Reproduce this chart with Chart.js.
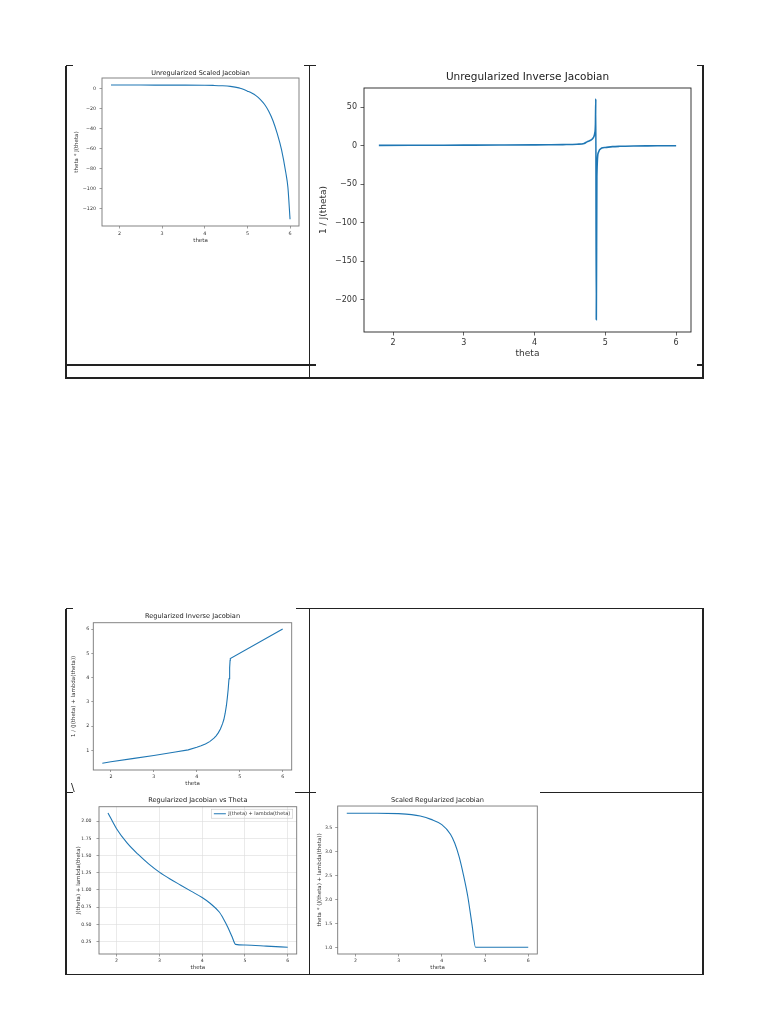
<!DOCTYPE html>
<html>
<head>
<meta charset="utf-8">
<script src="https://cdn.jsdelivr.net/npm/chart.js@4.4.1/dist/chart.umd.min.js"></script>
<style>
  body { margin: 0; width: 768px; height: 1024px; background: #fff; position: relative; overflow: hidden; font-family: 'DejaVu Sans', sans-serif; }
  .ln { position: absolute; background: #222; }
  canvas { position: absolute; }
  .mark { position: absolute; font-size: 11px; color: #222; }
</style>
</head>
<body>
<canvas id="c1"></canvas>
<canvas id="c2"></canvas>
<canvas id="c3"></canvas>
<canvas id="c4"></canvas>
<canvas id="c5"></canvas>
<div class="mark" style="left:71px; top:781px;">\</div>

<script>
// ---- data ----
const thetaTicks = [2, 3, 4, 5, 6];
const thetaTickLabels = ['2', '3', '4', '5', '6'];

// Unregularized Scaled Jacobian: theta * J(theta)
const unregScaledTheta = [1.8, 2.0, 2.5, 3.0, 3.5, 4.0, 4.2, 4.4, 4.6, 4.8, 4.87, 5.0, 5.1, 5.2, 5.3, 5.4, 5.5, 5.6, 5.7, 5.8, 5.9, 5.95, 6.0];
const unregScaledValues = [3.8, 3.8, 3.8, 3.78, 3.74, 3.6, 3.45, 3.15, 2.5, 1.0, 0, -2.3, -4.2, -6.8, -10.5, -15.5, -22.5, -32, -45, -61, -84, -99, -131];
const unregScaledYTicks = [0, -20, -40, -60, -80, -100, -120];
const unregScaledYLabels = ['0', '\u221220', '\u221240', '\u221260', '\u221280', '\u2212100', '\u2212120'];

// Unregularized Inverse Jacobian: 1 / J(theta)
const unregInverseTheta = [1.8, 2.5, 3.0, 3.5, 4.0, 4.2, 4.4, 4.6, 4.7, 4.74, 4.8, 4.83, 4.85, 4.86, 4.865, 4.872, 4.88, 4.9, 4.95, 5.0, 5.1, 5.2, 5.4, 5.6, 5.8, 6.0];
const unregInverseValues = [0.47, 0.66, 0.79, 0.94, 1.13, 1.25, 1.47, 2.0, 3.0, 5.0, 7.5, 10.5, 16, 28, 61, -226, -40, -9, -3, -2.2, -1.2, -0.76, -0.35, -0.17, -0.095, -0.046];
const unregInverseYTicks = [50, 0, -50, -100, -150, -200];
const unregInverseYLabels = ['50', '0', '\u221250', '\u2212100', '\u2212150', '\u2212200'];

// Regularized Inverse Jacobian: 1 / (J(theta) + lambda(theta))
const regInverseTheta = [1.8, 2.0, 2.5, 3.0, 3.5, 3.8, 4.0, 4.1, 4.2, 4.3, 4.4, 4.45, 4.5, 4.55, 4.6, 4.63, 4.66, 4.69, 4.71, 4.73, 4.75, 4.765, 4.775, 4.78, 6.0];
const regInverseValues = [0.47, 0.53, 0.66, 0.79, 0.93, 1.02, 1.13, 1.19, 1.26, 1.36, 1.5, 1.6, 1.72, 1.88, 2.1, 2.27, 2.52, 2.85, 3.15, 3.5, 3.95, 4.4, 4.7, 4.78, 6.0];
const regInverseYTicks = [1, 2, 3, 4, 5, 6];
const regInverseYLabels = ['1', '2', '3', '4', '5', '6'];

// Regularized Jacobian vs Theta: J(theta) + lambda(theta)
const regJacobianTheta = [1.8, 2.0, 2.25, 2.5, 2.75, 3.0, 3.25, 3.5, 3.75, 4.0, 4.2, 4.4, 4.5, 4.6, 4.7, 4.78, 5.0, 5.5, 6.0];
const regJacobianValues = [2.12, 1.89, 1.68, 1.52, 1.38, 1.26, 1.16, 1.07, 0.98, 0.89, 0.8, 0.68, 0.58, 0.46, 0.32, 0.21, 0.2, 0.185, 0.167];
const regJacobianYTicks = [0.25, 0.5, 0.75, 1.0, 1.25, 1.5, 1.75, 2.0];
const regJacobianYLabels = ['0.25', '0.50', '0.75', '1.00', '1.25', '1.50', '1.75', '2.00'];

// Scaled Regularized Jacobian: theta * (J(theta) + lambda(theta))
const scaledRegTheta = [1.8, 2.5, 3.0, 3.3, 3.5, 3.75, 4.0, 4.2, 4.3, 4.4, 4.5, 4.6, 4.7, 4.78, 5.0, 5.5, 6.0];
const scaledRegValues = [3.81, 3.81, 3.8, 3.78, 3.75, 3.68, 3.57, 3.37, 3.18, 2.9, 2.52, 2.07, 1.47, 1.0, 1.0, 1.0, 1.0];
const scaledRegYTicks = [1.0, 1.5, 2.0, 2.5, 3.0, 3.5];
const scaledRegYLabels = ['1.0', '1.5', '2.0', '2.5', '3.0', '3.5'];

const THETA_MIN = 1.59;
const THETA_MAX = 6.21;
const LINE_BLUE = '#1f77b4';

// ---- table borders of the page ----
const borderSegments = [
    // [x1, y1, x2, y2]
    [66, 65.5, 72.5, 65.5], [304, 65.5, 316, 65.5], [697, 65.5, 703.5, 65.5],
    [66, 365, 316, 365], [697, 365, 703.5, 365],
    [66, 378, 703.5, 378],
    [66, 608.8, 73, 608.8], [296, 608.8, 703.5, 608.8],
    [66, 792.3, 73, 792.3], [295, 792.3, 316, 792.3], [540, 792.3, 703.5, 792.3],
    [66, 974.3, 703.5, 974.3],
    [66, 65.5, 66, 379], [309.5, 65.5, 309.5, 379], [703, 65.5, 703, 379],
    [66, 608.8, 66, 975], [309.5, 608.8, 309.5, 975], [703, 608.8, 703, 975]
];
borderSegments.forEach(([x1, y1, x2, y2]) => {
    const d = document.createElement('div');
    d.className = 'ln';
    const t = 1.3;
    d.style.left = (Math.min(x1, x2) - (x1 === x2 ? t / 2 : 0)) + 'px';
    d.style.top = (Math.min(y1, y2) - (y1 === y2 ? t / 2 : 0)) + 'px';
    d.style.width = (x1 === x2 ? t : Math.abs(x2 - x1)) + 'px';
    d.style.height = (y1 === y2 ? t : Math.abs(y2 - y1)) + 'px';
    document.body.appendChild(d);
});

Chart.defaults.font.family = "'DejaVu Sans', sans-serif";
Chart.defaults.color = '#222';
Chart.defaults.animation = false;

// matplotlib-like box around the axes, legend moved to the upper right with a frame
const framePlugin = {
    id: 'frame',
    afterUpdate(chart, args, opts) {
        const lg = chart.legend;
        if (!opts.legendFrame || !lg || !lg.legendHitBoxes || !lg.legendHitBoxes.length) return;
        const h = lg.legendHitBoxes[0];
        const dx = (chart.chartArea.right - opts.legendRightGap) - (h.left + h.width);
        const dy = (chart.chartArea.top + opts.legendTopGap) - h.top;
        lg.left += dx;
        lg.right += dx;
        lg.top += dy;
        lg.bottom += dy;
        lg.legendHitBoxes.forEach(b => { b.left += dx; b.top += dy; });
    },
    afterDraw(chart, args, opts) {
        const { ctx, chartArea: a } = chart;
        ctx.save();
        ctx.strokeStyle = opts.color;
        ctx.lineWidth = opts.width;
        ctx.strokeRect(a.left, a.top, a.right - a.left, a.bottom - a.top);
        const lg = chart.legend;
        if (opts.legendFrame && lg && lg.legendHitBoxes && lg.legendHitBoxes.length) {
            const h = lg.legendHitBoxes[0];
            ctx.strokeStyle = '#c8c8c8';
            ctx.lineWidth = 0.6;
            ctx.strokeRect(h.left - 2.5, h.top - 2, h.width + 5, h.height + 4);
        }
        ctx.restore();
    }
};

function renderJacobianChart(id, spec) {
    const canvas = document.getElementById(id);
    const box = spec.box;
    canvas.width = box.width;
    canvas.height = box.height;
    canvas.style.left = box.left + 'px';
    canvas.style.top = box.top + 'px';

    const tickColor = spec.frameColor;

    return new Chart(canvas, {
        type: 'line',
        data: {
            datasets: [{
                label: spec.legendText || spec.title,
                data: spec.theta.map((t, i) => ({ x: t, y: spec.values[i] })),
                borderColor: LINE_BLUE,
                backgroundColor: LINE_BLUE,
                borderWidth: spec.lineWidth,
                pointRadius: 0,
                cubicInterpolationMode: spec.straight ? 'default' : 'monotone',
                tension: 0,
                fill: false
            }]
        },
        options: {
            responsive: false,
            animation: false,
            events: [],
            layout: { padding: { left: 0, right: spec.rightPad, top: 0, bottom: 0 } },
            plugins: {
                title: {
                    display: true,
                    text: spec.title,
                    fullSize: false,
                    color: '#222',
                    font: { size: spec.titleSize, weight: 'normal' },
                    padding: spec.titlePad
                },
                legend: spec.legendText ? {
                    display: true,
                    position: 'chartArea',
                    align: 'start',
                    labels: {
                        usePointStyle: true,
                        pointStyle: 'line',
                        pointStyleWidth: 12,
                        boxHeight: spec.legendSize,
                        padding: 5,
                        color: '#333',
                        font: { size: spec.legendSize }
                    }
                } : { display: false },
                tooltip: { enabled: false },
                frame: {
                    color: spec.frameColor,
                    width: spec.frameWidth,
                    legendFrame: !!spec.legendText,
                    legendRightGap: 6.5,
                    legendTopGap: 4.5
                }
            },
            scales: {
                x: {
                    type: 'linear',
                    min: THETA_MIN,
                    max: THETA_MAX,
                    afterBuildTicks: s => { s.ticks = thetaTicks.map(v => ({ value: v })); },
                    afterFit: s => { s.height = spec.xHeight; },
                    ticks: {
                        autoSkip: false,
                        maxRotation: 0,
                        color: '#333',
                        font: { size: spec.tickSize },
                        padding: spec.xTickPad,
                        callback: (v, i) => thetaTickLabels[i]
                    },
                    grid: {
                        drawOnChartArea: !!spec.grid,
                        color: '#dcdcdc',
                        lineWidth: 0.6,
                        tickLength: spec.tickLen,
                        tickColor: tickColor,
                        tickWidth: 0.7
                    },
                    border: { display: false },
                    title: {
                        display: true,
                        text: 'theta',
                        color: '#333',
                        font: { size: spec.labelSize },
                        padding: { top: 0, bottom: spec.xLabelPad }
                    }
                },
                y: {
                    type: 'linear',
                    min: spec.yMin,
                    max: spec.yMax,
                    afterBuildTicks: s => { s.ticks = spec.yTicks.map(v => ({ value: v })); },
                    afterFit: s => { s.width = spec.yWidth; },
                    ticks: {
                        autoSkip: false,
                        color: '#333',
                        font: { size: spec.tickSize },
                        padding: spec.yTickPad,
                        callback: (v, i) => spec.yLabels[i]
                    },
                    grid: {
                        drawOnChartArea: !!spec.grid,
                        color: '#dcdcdc',
                        lineWidth: 0.6,
                        tickLength: spec.tickLen,
                        tickColor: tickColor,
                        tickWidth: 0.7
                    },
                    border: { display: false },
                    title: {
                        display: true,
                        text: spec.yTitle,
                        color: '#333',
                        font: { size: spec.labelSize },
                        padding: { top: spec.yLabelPad, bottom: 0 }
                    }
                }
            }
        },
        plugins: [framePlugin]
    });
}

const smallStyle = {
    tickSize: 4.8, labelSize: 5.5, titleSize: 6.5, tickLen: 2.5,
    frameColor: '#777', frameWidth: 0.9, lineWidth: 1.1
};

renderJacobianChart('c1', Object.assign({}, smallStyle, {
    box: { left: 70, top: 66, width: 235, height: 182 },
    title: 'Unregularized Scaled Jacobian',
    titlePad: { top: 3.4, bottom: 0.8 },
    yTitle: 'theta * J(theta)',
    theta: unregScaledTheta, values: unregScaledValues,
    yTicks: unregScaledYTicks, yLabels: unregScaledYLabels,
    yMin: -137.7, yMax: 10.9,
    yWidth: 32, xHeight: 22, rightPad: 6,
    yTickPad: 3.5, xTickPad: 2, yLabelPad: 3.4, xLabelPad: 3.7
}));

renderJacobianChart('c2', {
    box: { left: 314, top: 66, width: 386, height: 298 },
    title: 'Unregularized Inverse Jacobian',
    titleSize: 10.5, titlePad: { top: 4.7, bottom: 4.7 },
    yTitle: '1 / J(theta)',
    theta: unregInverseTheta, values: unregInverseValues,
    yTicks: unregInverseYTicks, yLabels: unregInverseYLabels,
    yMin: -242, yMax: 75,
    yWidth: 50, xHeight: 32, rightPad: 9,
    tickSize: 8, labelSize: 9, tickLen: 3.5,
    yTickPad: 3.5, xTickPad: 3, yLabelPad: 4.6, xLabelPad: 4.6,
    frameColor: '#222', frameWidth: 0.9, lineWidth: 1.6
});

renderJacobianChart('c3', Object.assign({}, smallStyle, {
    box: { left: 68, top: 608, width: 228, height: 182 },
    title: 'Regularized Inverse Jacobian',
    titleSize: 6.6, titlePad: { top: 4, bottom: 2.8 },
    yTitle: '1 / (J(theta) + lambda(theta))',
    theta: regInverseTheta, values: regInverseValues,
    straight: true,
    yTicks: regInverseYTicks, yLabels: regInverseYLabels,
    yMin: 0.19, yMax: 6.26,
    yWidth: 25.3, xHeight: 20, rightPad: 4.3,
    tickLen: 2, yTickPad: 2, xTickPad: 1.5, yLabelPad: 2.0, xLabelPad: 3.4
}));

renderJacobianChart('c4', Object.assign({}, smallStyle, {
    box: { left: 70, top: 790, width: 232, height: 186 },
    title: 'Regularized Jacobian vs Theta',
    titleSize: 6.6, titlePad: { top: 6, bottom: 2.8 },
    yTitle: 'J(theta) + lambda(theta)',
    legendText: 'J(theta) + lambda(theta)', legendSize: 5,
    theta: regJacobianTheta, values: regJacobianValues,
    yTicks: regJacobianYTicks, yLabels: regJacobianYLabels,
    yMin: 0.07, yMax: 2.21,
    yWidth: 29, xHeight: 22, rightPad: 5.3, grid: true,
    tickSize: 4.6, yTickPad: 5, xTickPad: 1.7, yLabelPad: 5.0, xLabelPad: 5
}));

renderJacobianChart('c5', Object.assign({}, smallStyle, {
    box: { left: 312, top: 790, width: 229, height: 186 },
    title: 'Scaled Regularized Jacobian',
    titleSize: 6.6, titlePad: { top: 6, bottom: 2.1 },
    yTitle: 'theta * (J(theta) + lambda(theta))',
    theta: scaledRegTheta, values: scaledRegValues,
    yTicks: scaledRegYTicks, yLabels: scaledRegYLabels,
    yMin: 0.86, yMax: 3.96,
    yWidth: 25.7, xHeight: 22, rightPad: 3.7,
    tickSize: 4.6, yTickPad: 3, xTickPad: 1.7, yLabelPad: 4.7, xLabelPad: 5
}));
</script>
</body>
</html>
